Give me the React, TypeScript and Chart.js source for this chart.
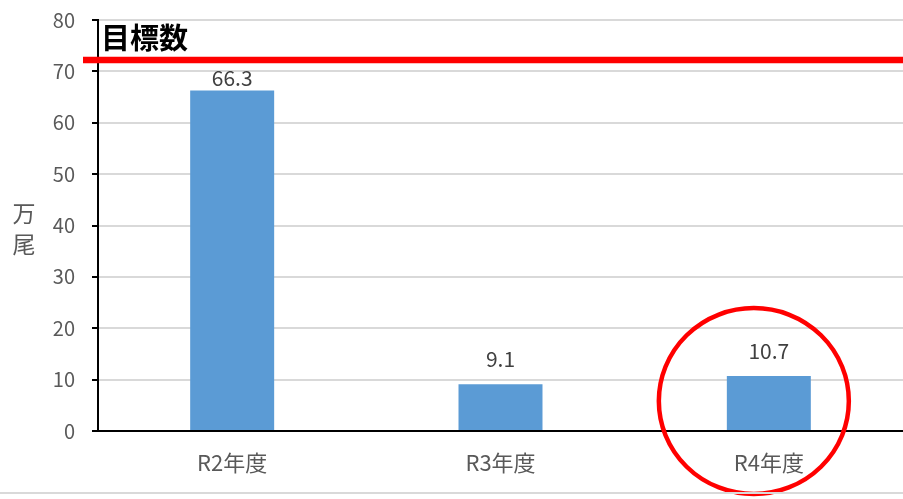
import React, { useEffect, useRef } from "react";
import { Chart, registerables } from "chart.js";

Chart.register(...registerables);

const categories = ["R2年度", "R3年度", "R4年度"];
const values = [66.3, 9.1, 10.7];
const targetValue = 72.2;
const targetLabel = "目標数";
const yTitleChars = ["万", "尾"];
const yMin = 0;
const yMax = 80;
const yStep = 10;
const highlightIndex = 2;

const FONT = "'Noto Sans CJK JP', 'Noto Sans', sans-serif";

const overlayPlugin = {
  id: "overlay",
  afterDatasetsDraw(chart: any) {
    const { ctx, chartArea, scales } = chart;
    const y = scales.y;
    const meta = chart.getDatasetMeta(0);
    const ty = y.getPixelForValue(targetValue);
    ctx.save();

    // data labels
    ctx.font = `21px ${FONT}`;
    ctx.fillStyle = "#404040";
    ctx.textAlign = "center";
    ctx.textBaseline = "middle";
    meta.data.forEach((bar: any, i: number) => {
      let ly = bar.y - 25;
      if (ly - 10 < ty + 6) ly = bar.y - 12;
      ctx.fillText(values[i].toFixed(1), bar.x, ly);
    });

    // target line
    ctx.strokeStyle = "#FF0000";
    ctx.lineWidth = 6.5;
    ctx.beginPath();
    ctx.moveTo(chartArea.left - 15, ty);
    ctx.lineTo(chartArea.right, ty);
    ctx.stroke();

    // target label
    ctx.font = `bold 29px ${FONT}`;
    ctx.fillStyle = "#000000";
    ctx.textAlign = "left";
    ctx.textBaseline = "middle";
    ctx.fillText(targetLabel, chartArea.left + 3, ty - 22);

    // y title (vertical stacked)
    ctx.font = `23px ${FONT}`;
    ctx.fillStyle = "#595959";
    ctx.textAlign = "center";
    const mid = (chartArea.top + chartArea.bottom) / 2 + 3;
    yTitleChars.forEach((c, i) => {
      ctx.fillText(c, 24, mid + (i - (yTitleChars.length - 1) / 2) * 31);
    });

    // highlight circle
    const hb = meta.data[highlightIndex];
    ctx.strokeStyle = "#FF0000";
    ctx.lineWidth = 4.5;
    ctx.beginPath();
    ctx.ellipse(hb.x - 15, chartArea.bottom - 30, 95, 93, 0, 0, Math.PI * 2);
    ctx.stroke();

    // bottom border line
    ctx.strokeStyle = "#D9D9D9";
    ctx.lineWidth = 2;
    ctx.beginPath();
    ctx.moveTo(0, chart.height - 6);
    ctx.lineTo(chart.width, chart.height - 6);
    ctx.stroke();

    ctx.restore();
  },
};

export default function App() {
  const canvasRef = useRef<HTMLCanvasElement | null>(null);

  useEffect(() => {
    document.body.style.margin = "0";
    const canvas = canvasRef.current;
    if (!canvas) return;
    const chart = new Chart(canvas, {
      type: "bar",
      data: {
        labels: categories,
        datasets: [
          {
            data: values,
            backgroundColor: "#5B9BD5",
            borderWidth: 0,
            categoryPercentage: 1,
            barPercentage: 0.313,
          },
        ],
      },
      options: {
        animation: false,
        responsive: false,
        layout: { padding: { top: 20, right: 0, bottom: 0, left: 0 } },
        plugins: {
          legend: { display: false },
          tooltip: { enabled: false },
        },
        scales: {
          x: {
            grid: { display: false, drawTicks: false },
            border: { display: true, color: "#000000", width: 2 },
            ticks: {
              color: "#595959",
              font: { family: FONT, size: 22 },
              padding: 18,
            },
            afterFit(s: any) {
              s.height = 68;
            },
          },
          y: {
            min: yMin,
            max: yMax,
            ticks: {
              stepSize: yStep,
              color: "#595959",
              font: { family: FONT, size: 20 },
              padding: 17,
            },
            grid: {
              color: "#D9D9D9",
              lineWidth: 2,
              tickColor: "#000000",
              tickLength: 6,
              tickWidth: 2,
            },
            border: { color: "#000000", width: 2 },
            afterFit(s: any) {
              s.width = 98;
              s.paddingTop = 0;
              s.paddingBottom = 0;
            },
          },
        },
      },
      plugins: [overlayPlugin],
    });
    return () => chart.destroy();
  }, []);

  return (
    <div style={{ width: 903, height: 499 }}>
      <canvas ref={canvasRef} width={903} height={499} style={{ width: 903, height: 499, display: "block" }} />
    </div>
  );
}
